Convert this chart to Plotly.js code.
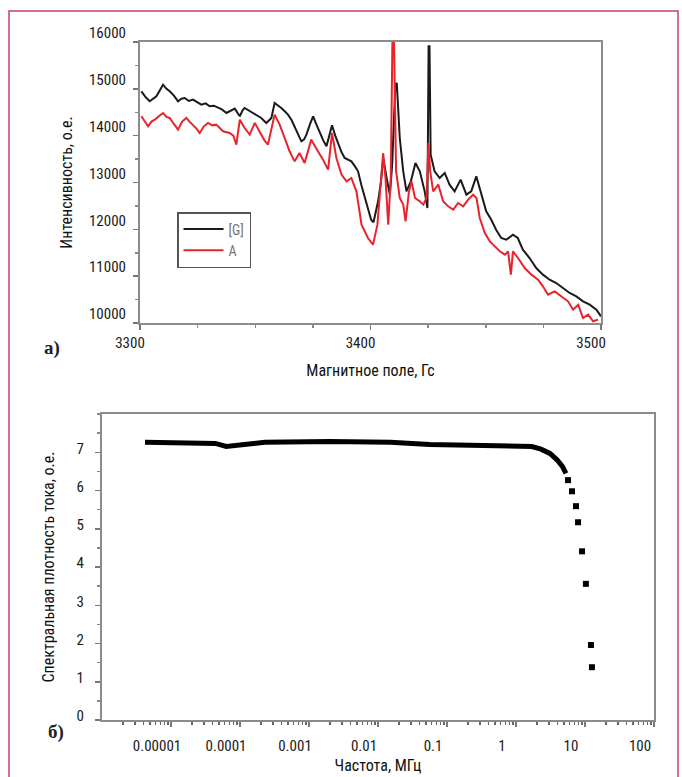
<!DOCTYPE html>
<html>
<head>
<meta charset="utf-8">
<script src="https://cdn.plot.ly/plotly-3.0.1.min.js"></script>
<style>html,body{margin:0;padding:0;background:#fff}#chart{width:682px;height:777px}</style>
</head>
<body>
<div id="chart"></div>
<script>
// ---- Top chart (а): intensity vs magnetic field ----
const fieldG = [3300.6,3302.5,3304.2,3305.8,3307.1,3310.0,3311.5,3312.9,3314.8,3316.5,3318.0,3319.4,3321.2,3323.0,3325.0,3326.6,3328.5,3330.2,3332.0,3333.8,3335.5,3337.5,3339.3,3341.1,3343.3,3344.5,3345.4,3347.2,3349.1,3351.0,3352.6,3354.8,3357.0,3358.4,3359.8,3361.3,3362.8,3364.2,3365.8,3367.1,3368.6,3370.0,3371.2,3372.2,3373.8,3375.1,3376.6,3378.0,3379.5,3380.9,3383.3,3384.7,3386.0,3387.4,3388.8,3390.3,3391.7,3393.2,3394.6,3396.0,3397.5,3399.0,3400.3,3401.3,3403.3,3404.5,3405.5,3407.0,3408.4,3409.4,3410.2,3410.8,3411.4,3412.0,3412.7,3414.2,3415.6,3417.5,3419.5,3421.4,3423.5,3424.7,3425.2,3425.6,3426.1,3427.8,3430.0,3432.2,3434.3,3436.5,3439.1,3441.6,3443.7,3445.9,3448.1,3450.2,3452.4,3454.5,3456.7,3458.9,3461.8,3463.9,3466.1,3469.0,3471.9,3474.8,3477.7,3480.6,3483.5,3486.4,3489.3,3492.2,3495.1,3498.0,3500.0];
const intensityG = [14947,14820,14734,14800,14840,15089,15000,14947,14850,14734,14790,14805,14740,14769,14700,14662,14690,14627,14640,14591,14560,14484,14540,14577,14413,14540,14591,14540,14484,14430,14378,14271,14378,14698,14650,14591,14520,14449,14330,14199,14050,13879,13920,14022,14250,14413,14230,14057,13900,13772,14221,14000,13808,13650,13523,13480,13452,13350,13238,12950,12669,12450,12200,12150,12598,13000,13523,13096,12740,13381,14500,15100,15125,14500,13950,13238,12811,13025,13417,13238,12811,12456,15908,15908,13594,13238,13096,13203,12954,12811,13061,12740,12811,13132,12740,12385,12206,11993,11815,11779,11886,11815,11566,11388,11174,11032,10925,10854,10747,10641,10569,10463,10391,10285,10142];

const fieldA = [3300.6,3302.0,3303.5,3305.0,3306.4,3308.3,3310.0,3311.5,3312.9,3314.7,3316.5,3318.3,3320.1,3321.5,3323.0,3324.5,3325.9,3327.7,3329.5,3331.3,3333.1,3334.5,3336.0,3338.9,3340.5,3341.8,3343.3,3345.4,3347.6,3349.8,3351.2,3352.6,3354.0,3355.5,3357.0,3358.4,3360.6,3362.7,3364.9,3367.1,3369.2,3371.4,3374.3,3377.2,3379.4,3381.6,3383.3,3385.2,3387.4,3389.6,3391.7,3393.9,3396.1,3398.9,3401.1,3403.0,3404.4,3405.5,3406.5,3407.7,3408.8,3409.5,3410.2,3411.1,3412.7,3414.2,3415.2,3416.7,3417.8,3419.3,3421.4,3422.9,3424.3,3425.1,3425.9,3427.2,3429.4,3431.5,3433.7,3435.9,3438.0,3440.2,3442.4,3444.5,3446.0,3447.4,3449.6,3451.8,3453.9,3456.1,3458.3,3459.7,3460.9,3461.8,3464.0,3466.9,3469.8,3472.7,3474.8,3477.0,3479.9,3482.8,3485.7,3487.9,3490.1,3492.2,3494.4,3496.6,3498.7];
const intensityA = [14413,14300,14199,14300,14342,14420,14484,14400,14378,14250,14128,14300,14378,14300,14235,14150,14057,14200,14271,14220,14235,14160,14093,14057,14000,13808,14342,14164,14022,14271,14150,14022,13900,13808,14164,14449,14235,13950,13666,13452,13630,13417,13915,13666,13488,13274,14057,13523,13168,13025,13096,12811,12100,11815,11673,12100,12883,13630,13096,12100,13096,16000,16000,13238,12669,12527,12171,12811,13025,12669,12598,12527,12669,13844,13238,12811,12954,12598,12491,12420,12562,12491,12634,12740,12669,12242,11922,11744,11637,11530,11459,11530,11032,11530,11388,11174,11032,10925,10783,10605,10676,10569,10463,10285,10391,10107,10178,10036,10071];

const topXTicks = [3300, 3400, 3500];
const topYTicks = [10000, 11000, 12000, 13000, 14000, 15000, 16000];
const topYText = ['10000', '11000', '12000', '13000', '14000', '15000', '16000'];

// ---- Bottom chart (б): spectral density vs frequency ----
// dense (continuous-looking) part
const freqDense = [4.2e-6, 1.35e-5, 4.4e-5, 6.3e-5, 1.0e-4, 2.3e-4, 2.0e-3, 1.5e-2, 5.6e-2, 0.30, 1.14, 1.70, 2.3, 3.1, 3.9, 4.7, 5.3];
const densDense = [7.26, 7.26, 7.23, 7.15, 7.20, 7.26, 7.28, 7.26, 7.20, 7.18, 7.18, 7.15, 7.08, 6.97, 6.81, 6.63, 6.45];
// separate points of the steep fall
const freqSparse = [5.68, 6.48, 7.41, 7.93, 9.06, 10.3, 12.2, 12.6];
const densSparse = [6.27, 5.98, 5.59, 5.17, 4.41, 3.56, 1.96, 1.38];

const botXTicks = [1e-5, 1e-4, 1e-3, 1e-2, 1e-1, 1, 10, 100];
const botXText = ['0.00001', '0.0001', '0.001', '0.01', '0.1', '1', '10', '100'];
const botYTicks = [0, 1, 2, 3, 4, 5, 6, 7];

const FONT = 'Liberation Sans Narrow, Arial Narrow, Roboto Condensed, DejaVu Sans Condensed, sans-serif';

// log minor tick positions (axis decoration)
const logMinor = [];
for (let e = -6; e < 2; e++) for (let m = 2; m <= 9; m++) logMinor.push(m * Math.pow(10, e));

const W = 682, H = 777;
const px = v => v / W, py = v => 1 - v / H;

const traces = [
  {x: fieldG, y: intensityG, type: 'scatter', mode: 'lines', name: '[G]',
   line: {color: '#1a1a1a', width: 2}, xaxis: 'x', yaxis: 'y'},
  {x: fieldA, y: intensityA, type: 'scatter', mode: 'lines', name: 'A',
   line: {color: '#e8232b', width: 2}, xaxis: 'x', yaxis: 'y'},
  {x: freqDense, y: densDense, type: 'scatter', mode: 'lines', showlegend: false,
   line: {color: '#000', width: 5}, xaxis: 'x2', yaxis: 'y2'},
  {x: freqSparse, y: densSparse, type: 'scatter', mode: 'markers', showlegend: false,
   marker: {symbol: 'square', size: 6, color: '#000'}, xaxis: 'x2', yaxis: 'y2'}
];

const axisCommon = {
  showline: true, linecolor: '#8c8c8c', linewidth: 2, mirror: true,
  ticks: 'outside', ticklen: 5, tickwidth: 1.5, tickcolor: '#777',
  showgrid: false, zeroline: false,
  tickfont: {family: FONT, size: 15, color: '#1a1a1a'}
};

const layout = {
  width: W, height: H,
  margin: {l: 0, r: 0, t: 0, b: 0},
  paper_bgcolor: '#fff', plot_bgcolor: '#fff',
  showlegend: true,
  legend: {x: px(177), y: py(212), xanchor: 'left', yanchor: 'top',
           bgcolor: '#fff', bordercolor: '#555', borderwidth: 1.5,
           font: {family: FONT, size: 14, color: '#777'},
           itemwidth: 40, tracegroupgap: 0},
  xaxis: Object.assign({}, axisCommon, {
    domain: [px(140), px(601)], range: [3300, 3500], anchor: 'y',
    tickvals: topXTicks, ticklabelshift: -10,
    minor: {dtick: 25, ticks: 'outside', ticklen: 3, tickcolor: '#888'},
    title: {text: 'Магнитное поле, Гс', font: {family: FONT, size: 16, color: '#111'}, standoff: 14}
  }),
  yaxis: Object.assign({}, axisCommon, {
    domain: [py(323), py(42)], range: [10000, 16000], anchor: 'x',
    tickvals: topYTicks, ticktext: topYText, ticklabelshift: -9, ticklabelstandoff: 4,
    minor: {dtick: 500, ticks: 'outside', ticklen: 3, tickcolor: '#888'},
    title: {text: 'Интенсивность, о.е.', font: {family: FONT, size: 16, color: '#111'}, standoff: 12}
  }),
  xaxis2: Object.assign({}, axisCommon, {
    type: 'log', domain: [px(102), px(654)], range: [-6, 2], anchor: 'y2',
    tickvals: botXTicks, ticktext: botXText, ticklabelshift: -14, ticklabelstandoff: 6,
    minor: {tickvals: logMinor, ticks: 'outside', ticklen: 3, tickcolor: '#666'},
    title: {text: 'Частота, МГц', font: {family: FONT, size: 16, color: '#111'}, standoff: 6}
  }),
  yaxis2: Object.assign({}, axisCommon, {
    domain: [py(720), py(414)], range: [0, 8], anchor: 'x2',
    tickvals: botYTicks, ticklabelshift: -4, ticklabelstandoff: 8,
    minor: {dtick: 0.5, ticks: 'outside', ticklen: 3, tickcolor: '#888'},
    title: {text: 'Спектральная плотность тока, о.е.', font: {family: FONT, size: 16, color: '#111'}, standoff: 18}
  }),
  shapes: [
    {type: 'rect', xref: 'paper', yref: 'paper', x0: px(9), x1: px(678), y0: -0.02, y1: py(11),
     line: {color: '#c8406e', width: 1.5}, fillcolor: 'rgba(0,0,0,0)', layer: 'below'}
  ],
  annotations: [
    {text: '<b>а)</b>', xref: 'paper', yref: 'paper', x: px(42), y: py(348), showarrow: false,
     font: {family: 'Liberation Serif, DejaVu Serif, serif', size: 19, color: '#222'}},
    {text: '<b>б)</b>', xref: 'paper', yref: 'paper', x: px(46), y: py(745), showarrow: false,
     font: {family: 'Liberation Serif, DejaVu Serif, serif', size: 19, color: '#222'}}
  ]
};

Plotly.newPlot('chart', traces, layout, {displayModeBar: false, staticPlot: true});
</script>
</body>
</html>
